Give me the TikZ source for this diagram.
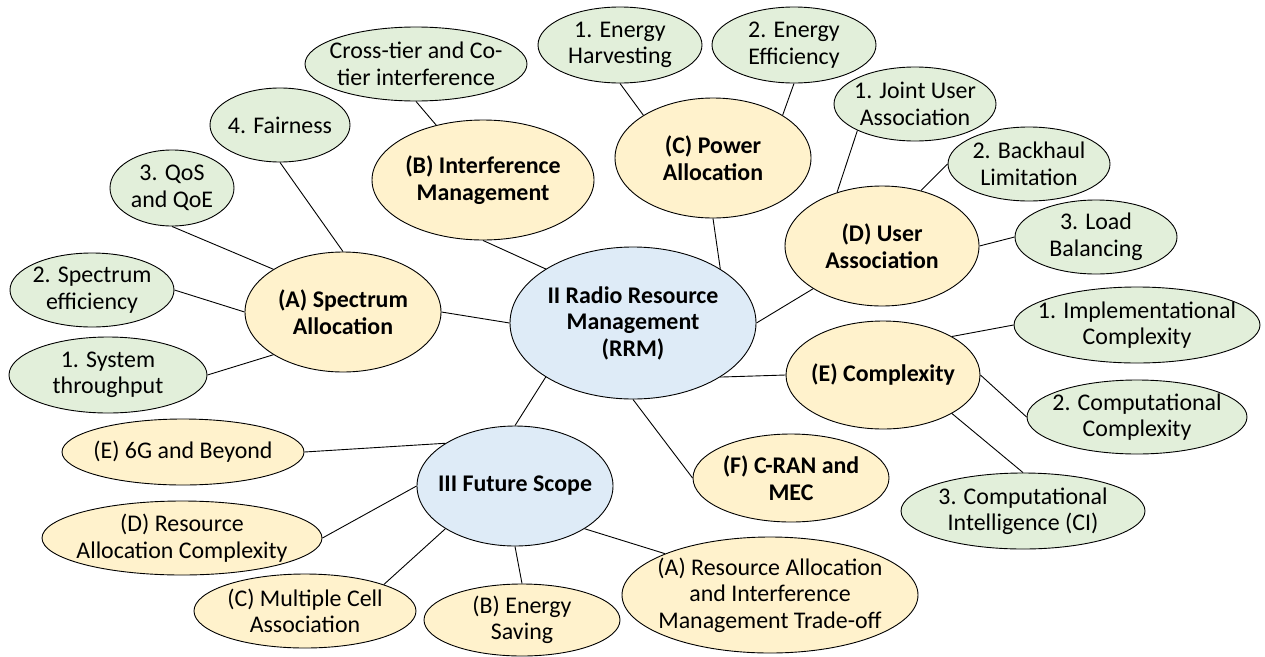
\documentclass[tikz,border=0pt]{standalone}
\usepackage{fontspec}
\setmainfont{Carlito}
\usetikzlibrary{shapes.geometric}
\definecolor{grn}{HTML}{E2EFDA}
\definecolor{ylw}{HTML}{FFF2CC}
\definecolor{blu}{HTML}{DEEBF7}
\tikzset{
  base/.style={ellipse, draw=black, line width=0.9pt, inner sep=0pt},
  gn/.style={base, fill=grn},
  yl/.style={base, fill=ylw},
  bl/.style={base, fill=blu},
  lab/.style={align=center, inner sep=0pt, font=\fontsize{23.9}{26.5}\selectfont},
  blab/.style={lab, font=\fontsize{23.9}{26.5}\selectfont\bfseries},
  conn/.style={draw=black, line width=0.9pt}
}
\begin{document}
\begin{tikzpicture}[x=1pt, y=-1pt]
\useasboundingbox (0,0) rectangle (1265,656);
% centre nodes
\node[bl, minimum width=246pt, minimum height=152pt, label={[blab]center:{II Radio Resource\\Management\\(RRM)}}] (rrm) at (633,323) {};
\node[bl, minimum width=196pt, minimum height=120pt, label={[blab]center:{III Future Scope}}] (III) at (515,486) {};
% RRM branches
\node[yl, minimum width=196pt, minimum height=120pt, label={[blab]center:{(A) Spectrum\\Allocation}}] (A) at (343,312) {};
\node[yl, minimum width=222pt, minimum height=120pt, label={[blab]center:{(B) Interference\\Management}}] (B) at (483,180) {};
\node[yl, minimum width=196pt, minimum height=120pt, label={[blab]center:{(C) Power\\Allocation}}] (C) at (713,158) {};
\node[yl, minimum width=194pt, minimum height=120pt, label={[blab]center:{(D) User\\Association}}] (D) at (882,246) {};
\node[yl, minimum width=194pt, minimum height=108pt, label={[blab]center:{(E) Complexity}}] (E) at (883,375) {};
\node[yl, minimum width=196pt, minimum height=88pt, label={[blab]center:{(F) C-RAN and\\MEC}}] (F) at (791,478) {};
% leaves of A
\node[gn, minimum width=140pt, minimum height=74pt, label={[lab]center:{4. Fairness}}] (fair) at (280,125) {};
\node[gn, minimum width=124pt, minimum height=76pt, label={[lab]center:{3. QoS\\and QoE}}] (qos) at (172,188) {};
\node[gn, minimum width=164pt, minimum height=74pt, label={[lab]center:{2. Spectrum\\efficiency}}] (spec) at (92,290) {};
\node[gn, minimum width=198pt, minimum height=76pt, label={[lab]center:{1. System\\throughput}}] (thr) at (108,375) {};
% leaf of B
\node[gn, minimum width=222pt, minimum height=74pt, label={[lab]center:{Cross-tier and Co-\\tier interference}}] (ct) at (416,64) {};
% leaves of C
\node[gn, minimum width=164pt, minimum height=76pt, label={[lab]center:{1. Energy\\Harvesting}}] (harv) at (620,45) {};
\node[gn, minimum width=164pt, minimum height=76pt, label={[lab]center:{2. Energy\\Efficiency}}] (eff) at (794,45) {};
% leaves of D
\node[gn, minimum width=162pt, minimum height=74pt, label={[lab]center:{1. Joint User\\Association}}] (joint) at (915,104) {};
\node[gn, minimum width=162pt, minimum height=74pt, label={[lab]center:{2. Backhaul\\Limitation}}] (back) at (1029,164) {};
\node[gn, minimum width=162pt, minimum height=74pt, label={[lab]center:{3. Load\\Balancing}}] (load) at (1096,237) {};
% leaves of E
\node[gn, minimum width=246pt, minimum height=76pt, label={[lab]center:{1. Implementational\\Complexity}}] (impl) at (1137,325) {};
\node[gn, minimum width=220pt, minimum height=74pt, label={[lab]center:{2. Computational\\Complexity}}] (comp) at (1137,417) {};
\node[gn, minimum width=244pt, minimum height=76pt, label={[lab]center:{3. Computational\\Intelligence (CI)}}] (ci) at (1023,511) {};
% future scope leaves
\node[yl, minimum width=242pt, minimum height=66pt, label={[lab]center:{(E) 6G and Beyond}}] (g6) at (183,452) {};
\node[yl, minimum width=280pt, minimum height=74pt, label={[lab]center:{(D) Resource\\Allocation Complexity}}] (drac) at (182,538) {};
\node[yl, minimum width=222pt, minimum height=74pt, label={[lab]center:{(C) Multiple Cell\\Association}}] (mc) at (305,611) {};
\node[yl, minimum width=196pt, minimum height=72pt, label={[lab]center:{(B) Energy\\Saving}}] (es) at (522,620) {};
\node[yl, minimum width=296pt, minimum height=116pt, label={[lab]center:{(A) Resource Allocation\\and Interference\\Management Trade-off}}] (tr) at (770,595) {};
% connectors
\path[conn] (fair.south) -- (A.north);
\path[conn] (qos.south) -- (A.north west);
\path[conn] (spec.east) -- (A.west);
\path[conn] (thr.east) -- (A.south west);
\path[conn] (ct.south) -- (B);
\path[conn] (B.south) -- (rrm.north west);
\path[conn] (A.east) -- (rrm.west);
\path[conn] (harv.south) -- (C.north west);
\path[conn] (eff.south) -- (C.north east);
\path[conn] (C.south) -- (rrm.north east);
\path[conn] (joint.south west) -- (D.130);
\path[conn] (back.west) -- (D.55);
\path[conn] (load.west) -- (D.east);
\path[conn] (D.south west) -- (rrm.east);
\path[conn] (rrm.south east) -- (E.west);
\path[conn] (rrm.south) -- (F.west);
\path[conn] (E.north east) -- (impl.west);
\path[conn] (E.east) -- (comp.west);
\path[conn] (E.south east) -- (ci.north);
\path[conn] (rrm.south west) -- (III.north);
\path[conn] (g6.east) -- (III.north west);
\path[conn] (drac.east) -- (III.west);
\path[conn] (mc.north east) -- (III.south west);
\path[conn] (es.north) -- (III.south);
\path[conn] (tr.north west) -- (III.south east);
\end{tikzpicture}
\end{document}
